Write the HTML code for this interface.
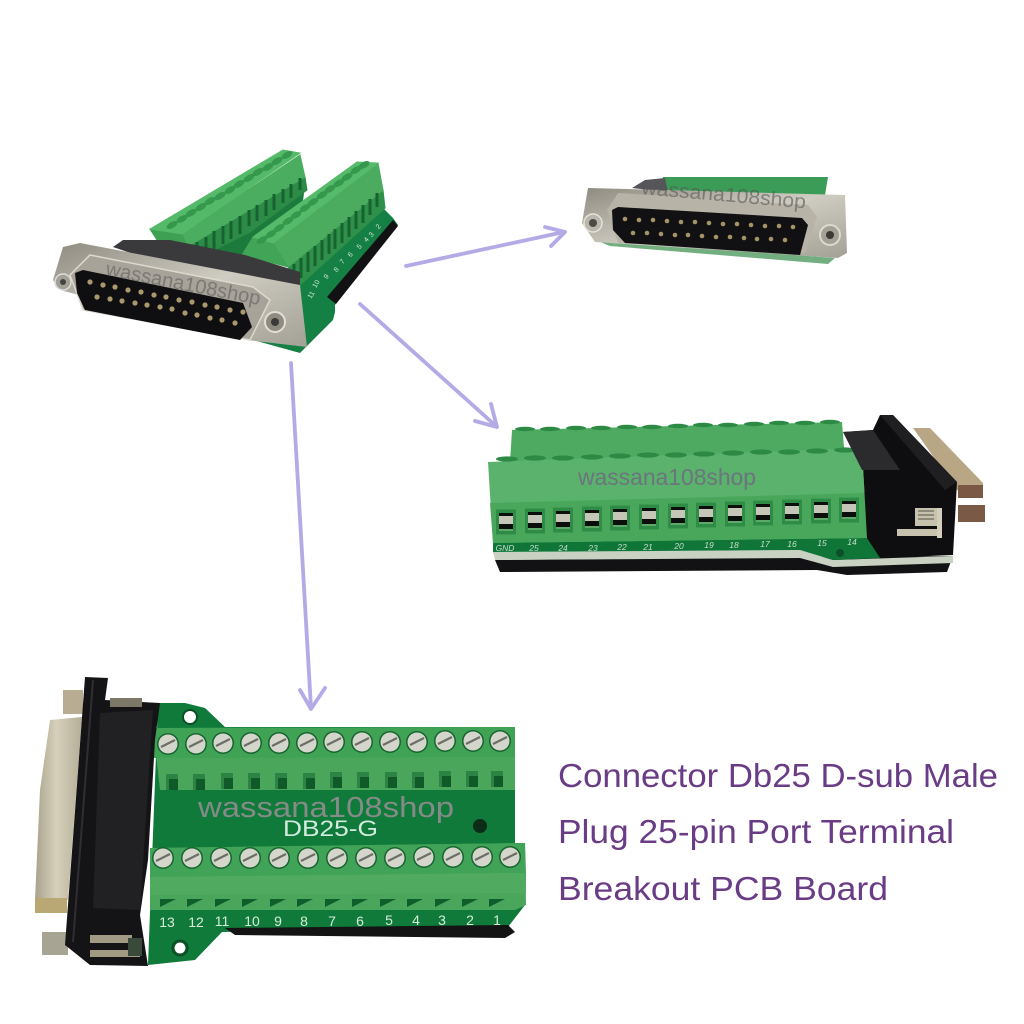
<!DOCTYPE html>
<html>
<head>
<meta charset="utf-8">
<style>
html,body{margin:0;padding:0;background:#fff;width:1024px;height:1024px;overflow:hidden}
svg{display:block}
text{font-family:"Liberation Sans",sans-serif}
</style>
</head>
<body>
<svg width="1024" height="1024" viewBox="0 0 1024 1024" xmlns="http://www.w3.org/2000/svg">
<defs>
<linearGradient id="shell" x1="0" y1="0" x2="1" y2="0"><stop offset="0" stop-color="#a9a28d"/><stop offset=".45" stop-color="#d6d0bb"/><stop offset="1" stop-color="#b5ad97"/></linearGradient>
<linearGradient id="flange" x1="0" y1="0" x2="1" y2="1"><stop offset="0" stop-color="#8f8b80"/><stop offset=".5" stop-color="#cfccc2"/><stop offset="1" stop-color="#a3a095"/></linearGradient>
<g id="screw"><circle r="11" fill="#17642f"/><circle r="9.5" fill="#d4d6cc"/><path d="M-7,3 L7,-4" stroke="#6d6f66" stroke-width="2.2"/></g>
<g id="hole"><rect x="-10" y="-12.5" width="20" height="25" fill="#2f8c47"/><rect x="-7" y="-9" width="14" height="18" fill="#0b0f0b"/><rect x="-7" y="-6" width="14" height="8" fill="#c5c5b8"/><rect x="-7" y="7" width="14" height="2" fill="#5ea869"/></g>
<g id="slot"><rect x="-6" y="-8" width="12" height="16" fill="#0f5a28"/><polygon points="-6,-8 6,-8 6,-3 -3,-3 -3,8 -6,8" fill="#2c8343"/></g>
<g id="slot2"><rect x="-8" y="-4" width="16" height="8" fill="#0f5f2c"/><polygon points="-8,4 8,-4 8,4" fill="#49a55b"/></g>
<ellipse id="th" rx="6" ry="3" transform="rotate(-30)" fill="#35984c"/>
<ellipse id="tr1" rx="11" ry="2.6" fill="#2c8a44"/>
<ellipse id="tr2" rx="10" ry="2.2" fill="#2c8a44"/>
<g id="pin"><circle r="2.6" fill="#a9996c"/></g>
<g id="pin2"><circle r="2.3" fill="#a49468"/></g>
</defs>
<rect width="1024" height="1024" fill="#fff"/>

<!-- arrows -->
<g stroke="#b3aae6" stroke-width="3.8" fill="none" stroke-linecap="round" stroke-linejoin="round">
<path d="M406,266 L564,232"/><path d="M545,227 L565,232 L551,246"/>
<path d="M360,304 L496,426"/><path d="M475,421 L497,427 L491,404"/>
<path d="M291,363 L311,708"/><path d="M300,690 L311,709 L325,688"/>
</g>

<!-- TOP LEFT product -->
<polygon points="300,285 383,208 393,218 398,225 335,305 335,312 333,320 300,353 253,340" fill="#148043"/>
<polygon points="393,220 398,226 336,304 327,297" fill="#121214"/>
<polygon points="195,250 305,185 300,225 240,270 215,262" fill="#1d7a3d"/>
<g font-size="7" fill="#cfe6d3" text-anchor="middle">
<text transform="translate(380,228) rotate(-50)">2</text><text transform="translate(373,236) rotate(-50)">3</text><text transform="translate(368,241) rotate(-50)">4</text><text transform="translate(361,248) rotate(-50)">5</text><text transform="translate(352,256) rotate(-50)">6</text><text transform="translate(344,263) rotate(-50)">7</text><text transform="translate(338,271) rotate(-50)">8</text><text transform="translate(328,278) rotate(-50)">9</text><text transform="translate(318,285) rotate(-60)">10</text><text transform="translate(313,296) rotate(-60)">11</text>
</g>
<!-- back block -->
<polygon points="157,240 187,247 305,177 307,190 250,232 190,262" fill="#2c8c47" stroke="#2c8c47" stroke-width="1"/>
<polygon points="182,234 300,155 305,177 187,247" fill="#4aad5f" stroke="#4aad5f" stroke-width="1"/>
<polygon points="150,229 182,234 187,247 157,240" fill="#3da053" stroke="#3da053" stroke-width="1"/>
<polygon points="150,229 283,150 300,153 182,234" fill="#55b96a" stroke="#55b96a" stroke-width="1"/>
<g stroke="#17632f" stroke-width="3" fill="none">
<path d="M197,242v18M206,237v18M214,231v18M223,226v18M231,221v18M240,216v18M249,210v16M257,205v16M266,200v16M274,194v16M283,189v14M291,184v14M300,178v12"/>
</g>
<g><use href="#th" x="172" y="225"/><use href="#th" x="182" y="219"/><use href="#th" x="191" y="213"/><use href="#th" x="201" y="207"/><use href="#th" x="210" y="201"/><use href="#th" x="220" y="196"/><use href="#th" x="230" y="190"/><use href="#th" x="239" y="184"/><use href="#th" x="249" y="178"/><use href="#th" x="258" y="172"/><use href="#th" x="268" y="167"/><use href="#th" x="277" y="161"/><use href="#th" x="287" y="155"/></g>
<!-- front block -->
<polygon points="288,267 383,190 385,208 300,285" fill="#2f9049" stroke="#2f9049" stroke-width="1"/>
<polygon points="273,243 378,163 383,190 288,267" fill="#4bab5f" stroke="#4bab5f" stroke-width="1"/>
<polygon points="253,237 273,243 288,267 242,255" fill="#41a457" stroke="#41a457" stroke-width="1"/>
<polygon points="253,237 357,162 378,163 273,243" fill="#56ba6b" stroke="#56ba6b" stroke-width="1"/>
<g stroke="#17632f" stroke-width="3" fill="none">
<path d="M294,264v20M301,258v20M308,252v20M315,246v20M322,240v20M329,234v20M335,229v20M342,223v20M349,217v20M356,211v18M363,205v18M370,199v16M377,193v14"/>
</g>
<g><use href="#th" x="262" y="240"/><use href="#th" x="271" y="234"/><use href="#th" x="279" y="228"/><use href="#th" x="288" y="221"/><use href="#th" x="296" y="215"/><use href="#th" x="305" y="208"/><use href="#th" x="313" y="202"/><use href="#th" x="322" y="195"/><use href="#th" x="330" y="189"/><use href="#th" x="339" y="183"/><use href="#th" x="347" y="177"/><use href="#th" x="356" y="170"/><use href="#th" x="364" y="165"/></g>
<!-- housing -->
<polygon points="113,247 123,240 170,240 245,255 300,272 300,292 240,290" fill="#3a3a3d"/>
<!-- flange -->
<polygon points="63,247 80,243 300,285 307,347 247,340 60,290 53,280" fill="url(#flange)"/>
<polygon points="90,255 253,287 270,300 250,340 83,310 70,275" fill="#a8a398" stroke="#dcd9cf" stroke-width="1.5"/>
<polygon points="75,273 83,270 243,303 252,327 240,340 85,310 77,293" fill="#0f0f12"/>
<g>
<use href="#pin" x="90" y="282"/><use href="#pin" x="103" y="285"/><use href="#pin" x="115" y="287"/><use href="#pin" x="128" y="290"/><use href="#pin" x="141" y="292"/><use href="#pin" x="154" y="295"/><use href="#pin" x="166" y="297"/><use href="#pin" x="179" y="300"/><use href="#pin" x="192" y="302"/><use href="#pin" x="205" y="305"/><use href="#pin" x="217" y="307"/><use href="#pin" x="230" y="310"/><use href="#pin" x="243" y="312"/>
<use href="#pin" x="97" y="297"/><use href="#pin" x="110" y="299"/><use href="#pin" x="122" y="301"/><use href="#pin" x="135" y="303"/><use href="#pin" x="147" y="305"/><use href="#pin" x="160" y="307"/><use href="#pin" x="172" y="309"/><use href="#pin" x="185" y="313"/><use href="#pin" x="197" y="315"/><use href="#pin" x="210" y="318"/><use href="#pin" x="222" y="320"/><use href="#pin" x="235" y="323"/>
</g>
<circle cx="275" cy="322" r="10" fill="#8f8b80" stroke="#e2dfd6" stroke-width="2"/><circle cx="275" cy="322" r="4" fill="#3a3a3a"/>
<circle cx="63" cy="282" r="8" fill="#a3a095" stroke="#ddd" stroke-width="1.5"/><circle cx="63" cy="282" r="3" fill="#444"/>
<text x="105" y="275" font-size="20" fill="#666" fill-opacity=".7" textLength="157" lengthAdjust="spacingAndGlyphs" transform="rotate(11 105 275)">wassana108shop</text>

<!-- TOP RIGHT product -->
<polygon points="663,177 828,177 825,195 660,190" fill="#3b9c58"/>
<polygon points="632,188 645,180 665,178 668,192" fill="#55555a"/>
<polygon points="595,240 835,258 828,264 610,246" fill="#72ae80"/>
<polygon points="588,188 845,195 847,253 838,258 595,242 582,223" fill="url(#flange)"/>
<polygon points="618,193 808,205 817,217 805,253 618,243 607,210" fill="#b7b3a6"/>
<polygon points="612,210 618,207 802,218 808,225 800,255 625,243 613,230" fill="#111114"/>
<g>
<use href="#pin2" x="625" y="219"/><use href="#pin2" x="639" y="220"/><use href="#pin2" x="653" y="220"/><use href="#pin2" x="667" y="221"/><use href="#pin2" x="681" y="222"/><use href="#pin2" x="695" y="222"/><use href="#pin2" x="709" y="223"/><use href="#pin2" x="723" y="224"/><use href="#pin2" x="737" y="224"/><use href="#pin2" x="751" y="225"/><use href="#pin2" x="765" y="226"/><use href="#pin2" x="779" y="226"/><use href="#pin2" x="793" y="227"/>
<use href="#pin2" x="633" y="233"/><use href="#pin2" x="647" y="233"/><use href="#pin2" x="661" y="234"/><use href="#pin2" x="675" y="235"/><use href="#pin2" x="688" y="235"/><use href="#pin2" x="702" y="236"/><use href="#pin2" x="716" y="237"/><use href="#pin2" x="730" y="237"/><use href="#pin2" x="744" y="238"/><use href="#pin2" x="757" y="239"/><use href="#pin2" x="771" y="239"/><use href="#pin2" x="785" y="240"/>
</g>
<circle cx="593" cy="223" r="9" fill="#b9b6ab" stroke="#e5e3da" stroke-width="1.5"/><circle cx="593" cy="223" r="4" fill="#4c4a44"/>
<circle cx="830" cy="235" r="10" fill="#a3a095" stroke="#dcd9cf" stroke-width="2"/><circle cx="830" cy="235" r="4" fill="#3c3a34"/>
<text x="641" y="194" font-size="20" fill="#555" fill-opacity=".6" textLength="165" lengthAdjust="spacingAndGlyphs" transform="rotate(5 641 194)">wassana108shop</text>

<!-- MIDDLE RIGHT product -->
<polygon points="495,560 953,556 947,572 847,575 817,570 500,572" fill="#121214"/>
<polygon points="493,552 800,550 833,560 953,556 953,563 833,567 800,558 495,560" fill="#c9d1c2"/>
<polygon points="493,540 880,530 882,558 833,560 800,550 493,552" fill="#0f7638"/>
<circle cx="840" cy="553" r="4" fill="#0d4f28"/>
<polygon points="512,430 842,422 845,460 510,462" fill="#4eaa60"/>
<g><use href="#tr2" x="525" y="429"/><use href="#tr2" x="550" y="429"/><use href="#tr2" x="576" y="428"/><use href="#tr2" x="601" y="428"/><use href="#tr2" x="627" y="427"/><use href="#tr2" x="652" y="427"/><use href="#tr2" x="678" y="426"/><use href="#tr2" x="703" y="425"/><use href="#tr2" x="728" y="425"/><use href="#tr2" x="754" y="424"/><use href="#tr2" x="779" y="423"/><use href="#tr2" x="805" y="423"/><use href="#tr2" x="830" y="422"/></g>
<polygon points="488,462 862,448 867,538 493,543" fill="#5bb26c"/>
<polygon points="490,503 866,493 867,538 493,543" fill="#49a75b"/>
<g><use href="#tr1" x="507" y="459"/><use href="#tr1" x="535" y="458"/><use href="#tr1" x="563" y="458"/><use href="#tr1" x="592" y="457"/><use href="#tr1" x="620" y="456"/><use href="#tr1" x="648" y="455"/><use href="#tr1" x="676" y="455"/><use href="#tr1" x="704" y="454"/><use href="#tr1" x="733" y="453"/><use href="#tr1" x="761" y="452"/><use href="#tr1" x="789" y="452"/><use href="#tr1" x="817" y="451"/><use href="#tr1" x="845" y="450"/></g>
<g>
<use href="#hole" x="506" y="522"/><use href="#hole" x="535" y="521"/><use href="#hole" x="563" y="520"/><use href="#hole" x="592" y="519"/><use href="#hole" x="620" y="518"/><use href="#hole" x="649" y="517"/><use href="#hole" x="678" y="516"/><use href="#hole" x="706" y="515"/><use href="#hole" x="735" y="514"/><use href="#hole" x="763" y="513"/><use href="#hole" x="792" y="512"/><use href="#hole" x="821" y="511"/><use href="#hole" x="849" y="510"/>
</g>
<g font-size="8.5" font-style="italic" fill="#c8dfcc" text-anchor="middle">
<text x="505" y="551">GND</text><text x="534" y="551">25</text><text x="563" y="551">24</text><text x="593" y="551">23</text><text x="622" y="550">22</text><text x="648" y="550">21</text><text x="679" y="549">20</text><text x="709" y="548">19</text><text x="734" y="548">18</text><text x="765" y="547">17</text><text x="792" y="547">16</text><text x="822" y="546">15</text><text x="852" y="545">14</text>
</g>
<!-- metal -->
<polygon points="913,428 930,428 983,483 983,497 957,490" fill="#b8a685"/>
<rect x="958" y="485" width="25" height="13" fill="#7b5843"/>
<rect x="958" y="505" width="27" height="17" fill="#7a5a46"/>
<!-- housing -->
<polygon points="843,432 873,430 880,415 893,415 957,482 953,555 880,558 867,538 862,448" fill="#0e0e10"/>
<polygon points="843,432 873,430 900,470 862,470" fill="#2b2b2e"/>
<polygon points="880,415 893,415 957,482 945,490" fill="#1f1f22"/>
<g fill="#c7c2ad"><rect x="915" y="508" width="22" height="18"/><rect x="897" y="529" width="40" height="7"/></g>
<path d="M918,511h16M918,515h16M918,519h16" stroke="#6c6a5c" stroke-width="1.2"/>
<rect x="937" y="508" width="5" height="30" fill="#d4cfbc"/>
<text x="578" y="485" font-size="23" fill="#6f6a80" fill-opacity=".85" textLength="178" lengthAdjust="spacingAndGlyphs">wassana108shop</text>

<!-- BOTTOM LEFT product -->
<polygon points="158,703 185,703 205,708 225,727 515,727 515,843 525,843 525,905 508,927 222,932 195,960 148,965" fill="#0f7a39"/>
<polygon points="225,928 508,925 515,932 505,938 235,935" fill="#141414"/>
<circle cx="480" cy="826" r="7" fill="#0c2c17"/>
<circle cx="190" cy="717" r="7" fill="#fff" stroke="#0a4f25" stroke-width="2"/>
<circle cx="180" cy="948" r="7" fill="#fff" stroke="#0a4f25" stroke-width="3"/>
<!-- top block -->
<polygon points="153,728 515,727 515,790 160,790" fill="#4aa65b"/>
<polygon points="153,728 515,727 515,757 153,758" fill="#3fa255"/>
<g>
<use href="#slot" x="172" y="782"/><use href="#slot" x="199" y="782"/><use href="#slot" x="227" y="781"/><use href="#slot" x="254" y="781"/><use href="#slot" x="281" y="781"/><use href="#slot" x="309" y="781"/><use href="#slot" x="336" y="780"/><use href="#slot" x="363" y="780"/><use href="#slot" x="391" y="780"/><use href="#slot" x="418" y="780"/><use href="#slot" x="445" y="779"/><use href="#slot" x="472" y="779"/><use href="#slot" x="497" y="779"/>
</g>
<g>
<use href="#screw" x="168" y="744"/><use href="#screw" x="196" y="744"/><use href="#screw" x="223" y="743"/><use href="#screw" x="251" y="743"/><use href="#screw" x="279" y="743"/><use href="#screw" x="307" y="743"/><use href="#screw" x="334" y="742"/><use href="#screw" x="362" y="742"/><use href="#screw" x="390" y="742"/><use href="#screw" x="417" y="742"/><use href="#screw" x="445" y="741"/><use href="#screw" x="473" y="741"/><use href="#screw" x="500" y="741"/>
</g>
<!-- bottom block -->
<polygon points="150,848 525,843 526,905 515,910 150,910" fill="#4aa65b"/>
<polygon points="150,848 525,843 526,873 150,877" fill="#41a357"/>
<polygon points="150,877 526,873 526,893 150,895" fill="#50ab60"/>
<g>
<use href="#slot2" x="168" y="903"/><use href="#slot2" x="195" y="903"/><use href="#slot2" x="223" y="903"/><use href="#slot2" x="250" y="903"/><use href="#slot2" x="278" y="903"/><use href="#slot2" x="305" y="903"/><use href="#slot2" x="333" y="903"/><use href="#slot2" x="360" y="903"/><use href="#slot2" x="388" y="903"/><use href="#slot2" x="415" y="903"/><use href="#slot2" x="443" y="903"/><use href="#slot2" x="470" y="903"/><use href="#slot2" x="497" y="903"/>
</g>
<g>
<use href="#screw" x="163" y="858"/><use href="#screw" x="192" y="858"/><use href="#screw" x="221" y="858"/><use href="#screw" x="250" y="858"/><use href="#screw" x="279" y="858"/><use href="#screw" x="308" y="858"/><use href="#screw" x="337" y="858"/><use href="#screw" x="366" y="858"/><use href="#screw" x="395" y="858"/><use href="#screw" x="424" y="857"/><use href="#screw" x="453" y="857"/><use href="#screw" x="482" y="857"/><use href="#screw" x="510" y="857"/>
</g>
<g font-size="14" fill="#d8ecdc" text-anchor="middle">
<text x="167" y="927">13</text><text x="196" y="927">12</text><text x="222" y="926">11</text><text x="252" y="926">10</text><text x="278" y="926">9</text><text x="304" y="926">8</text><text x="332" y="926">7</text><text x="360" y="926">6</text><text x="389" y="925">5</text><text x="416" y="925">4</text><text x="442" y="925">3</text><text x="470" y="925">2</text><text x="497" y="925">1</text>
</g>
<text x="283" y="836" font-size="22" fill="#d4ebe0" textLength="95" lengthAdjust="spacingAndGlyphs">DB25-G</text>
<!-- metal shell -->
<rect x="63" y="690" width="20" height="24" fill="#b8ad92"/>
<polygon points="50,720 82,717 68,900 35,900 40,790" fill="url(#shell)"/>
<rect x="35" y="898" width="32" height="15" fill="#b9a873"/>
<rect x="42" y="932" width="26" height="23" fill="#a7a493"/>
<!-- black housing -->
<polygon points="85,677 108,678 105,700 160,703 155,740 148,860 140,915 148,966 90,965 65,945" fill="#141416"/>
<polygon points="100,713 153,710 140,910 93,908" fill="#212124"/>
<path d="M93,680 L73,942" stroke="#2f2f33" stroke-width="2" fill="none"/>
<rect x="110" y="698" width="32" height="9" fill="#7c7766"/>
<rect x="90" y="935" width="42" height="8" fill="#a19b84"/>
<rect x="90" y="950" width="50" height="7" fill="#a19b84"/>
<rect x="128" y="938" width="14" height="18" fill="#3a4a3a"/>
<text x="198" y="817" font-size="29" fill="#8c8c8c" fill-opacity=".95" textLength="256" lengthAdjust="spacingAndGlyphs">wassana108shop</text>

<!-- caption -->
<g fill="#6a3c85" font-size="33">
<text x="558" y="787" textLength="440" lengthAdjust="spacingAndGlyphs">Connector Db25 D-sub Male</text>
<text x="558" y="843" textLength="396" lengthAdjust="spacingAndGlyphs">Plug 25-pin Port Terminal</text>
<text x="558" y="900" textLength="330" lengthAdjust="spacingAndGlyphs">Breakout PCB Board</text>
</g>
</svg>
</body>
</html>
